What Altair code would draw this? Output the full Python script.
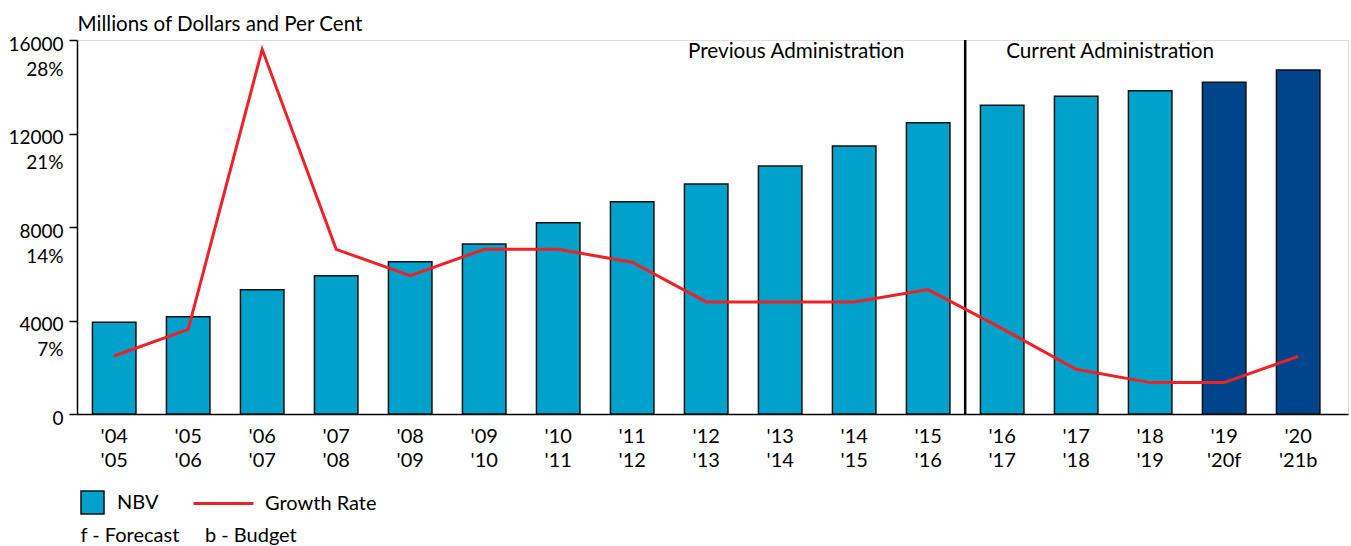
import altair as alt
import pandas as pd

# ---- data ----
periods = ["'04|'05", "'05|'06", "'06|'07", "'07|'08", "'08|'09", "'09|'10",
           "'10|'11", "'11|'12", "'12|'13", "'13|'14", "'14|'15", "'15|'16",
           "'16|'17", "'17|'18", "'18|'19", "'19|'20f", "'20|'21b"]
nbv = [3923, 4163, 5318, 5917, 6516, 7273, 8184, 9083, 9840, 10610, 11465,
       12462, 13206, 13591, 13831, 14190, 14717]
growth_pct = [4.34, 6.34, 27.30, 12.33, 10.35, 12.33, 12.33, 11.36, 8.39, 8.39,
              8.39, 9.31, 6.39, 3.35, 2.35, 2.35, 4.32]
bar_kind = ["NBV", "NBV", "NBV", "NBV", "NBV", "NBV", "NBV", "NBV", "NBV",
            "NBV", "NBV", "NBV", "NBV", "NBV", "NBV", "NBV (f/b)", "NBV (f/b)"]
y_ticks = [0, 4000, 8000, 12000, 16000]
divider_period = ["'15|'16"]
left_label = ["Previous Administration"]
right_label = ["Current Administration"]
right_anchor = ["'16|'17"]

LIGHT = "#00A2CB"
DARK = "#00458B"
RED = "#EC2227"
FONT = "Lato"

df = pd.DataFrame({"period": periods, "nbv": nbv, "pct": growth_pct,
                   "kind": bar_kind})

xscale = alt.Scale(domain=periods, paddingInner=0.412, paddingOuter=0.294,
                   align=0.355)
yscale = alt.Scale(domain=[0, 16000], nice=False, zero=True)

x_enc = alt.X(
    "period:N", scale=xscale, sort=periods,
    axis=alt.Axis(
        title="f - Forecast" + "\u00a0" * 5 + "b - Budget",
        titleX=3, titleY=127, titleAlign="left", titleAnchor="start",
        titleBaseline="alphabetic", titleFontSize=20, titleFontWeight="normal",
        titleFont=FONT, titleColor="black",
        labelExpr="split(datum.value, '|')", labelAngle=0,
        labelFontSize=20, labelFont=FONT, labelColor="black",
        labelLineHeight=24, labelBaseline="middle", labelPadding=22,
        ticks=False, tickSize=0, domainColor="black", domainWidth=1.5,
        grid=False,
    ),
)

bars = alt.Chart(df).mark_bar(stroke="#111111", strokeWidth=1.5).encode(
    x=x_enc,
    y=alt.Y(
        "nbv:Q", scale=yscale,
        axis=alt.Axis(
            values=y_ticks, format="d",
            labelExpr="[datum.label, datum.value == 0 ? '' : format(datum.value / 4000 * 7, 'd') + '%']",
            labelFontSize=19, labelFont=FONT, labelColor="black",
            labelLineHeight=25, labelBaseline="middle", labelOffset=4,
            labelPadding=6, tickSize=8, tickColor="black", tickWidth=1.5,
            domainColor="black", domainWidth=1.5, grid=False,
            title="Millions of Dollars and Per Cent", titleAngle=0,
            titleAlign="left", titleX=0, titleY=-10,
            titleBaseline="alphabetic", titleFontSize=20.6,
            titleFontWeight="normal", titleFont=FONT, titleColor="black",
        ),
    ),
    fill=alt.Fill(
        "kind:N",
        scale=alt.Scale(domain=["NBV", "NBV (f/b)"], range=[LIGHT, DARK]),
        legend=alt.Legend(
            values=["NBV"], title=None, orient="none", legendX=3, legendY=450,
            symbolType="square", symbolSize=530, symbolStrokeColor="#111111",
            symbolStrokeWidth=1.5, symbolOpacity=1,
            labelFontSize=20, labelFont=FONT, labelColor="black",
            labelOffset=12, padding=0,
        ),
    ),
)

line = alt.Chart(df).transform_calculate(series="'Growth Rate'").mark_line(
    strokeWidth=3
).encode(
    x=alt.X("period:N", scale=xscale, sort=periods),
    y=alt.Y("pct:Q", scale=alt.Scale(domain=[0, 28], nice=False), axis=None),
    stroke=alt.Stroke(
        "series:N",
        scale=alt.Scale(domain=["Growth Rate"], range=[RED]),
        legend=alt.Legend(
            title=None, orient="none", legendX=115, legendY=432,
            symbolType="stroke", symbolSize=3600, symbolStrokeWidth=3,
            labelFontSize=20, labelFont=FONT, labelColor="black",
            labelOffset=10, padding=0,
        ),
    ),
)

rule_df = pd.DataFrame({"period": divider_period, "top": [16000], "bottom": [0]})
rule = alt.Chart(rule_df).mark_rule(color="black", strokeWidth=2.5,
                                    xOffset=37).encode(
    x=alt.X("period:N", scale=xscale, sort=periods),
    y=alt.Y("top:Q", scale=yscale, axis=None),
    y2="bottom:Q",
)

prev_df = pd.DataFrame({"period": divider_period, "label": left_label,
                        "yv": [15490]})
prev_txt = alt.Chart(prev_df).mark_text(
    align="right", baseline="middle", dx=-24, fontSize=20.7, font=FONT,
    color="black"
).encode(
    x=alt.X("period:N", scale=xscale, sort=periods),
    y=alt.Y("yv:Q", scale=yscale, axis=None),
    text="label:N",
)

cur_df = pd.DataFrame({"period": right_anchor, "label": right_label,
                       "yv": [15490]})
cur_txt = alt.Chart(cur_df).mark_text(
    align="left", baseline="middle", dx=4, fontSize=20.7, font=FONT,
    color="black"
).encode(
    x=alt.X("period:N", scale=xscale, sort=periods),
    y=alt.Y("yv:Q", scale=yscale, axis=None),
    text="label:N",
)

chart = alt.layer(bars, rule, line, prev_txt, cur_txt).resolve_scale(
    y="independent"
).properties(
    width=1271, height=374,
    autosize=alt.AutoSizeParams(type="none"),
    padding={"left": 77, "top": 40, "right": 3, "bottom": 132},
    background="white",
).configure_view(stroke=None).configure(font=FONT)

chart.save("out.html", embed_options={"renderer": "svg", "actions": False})
